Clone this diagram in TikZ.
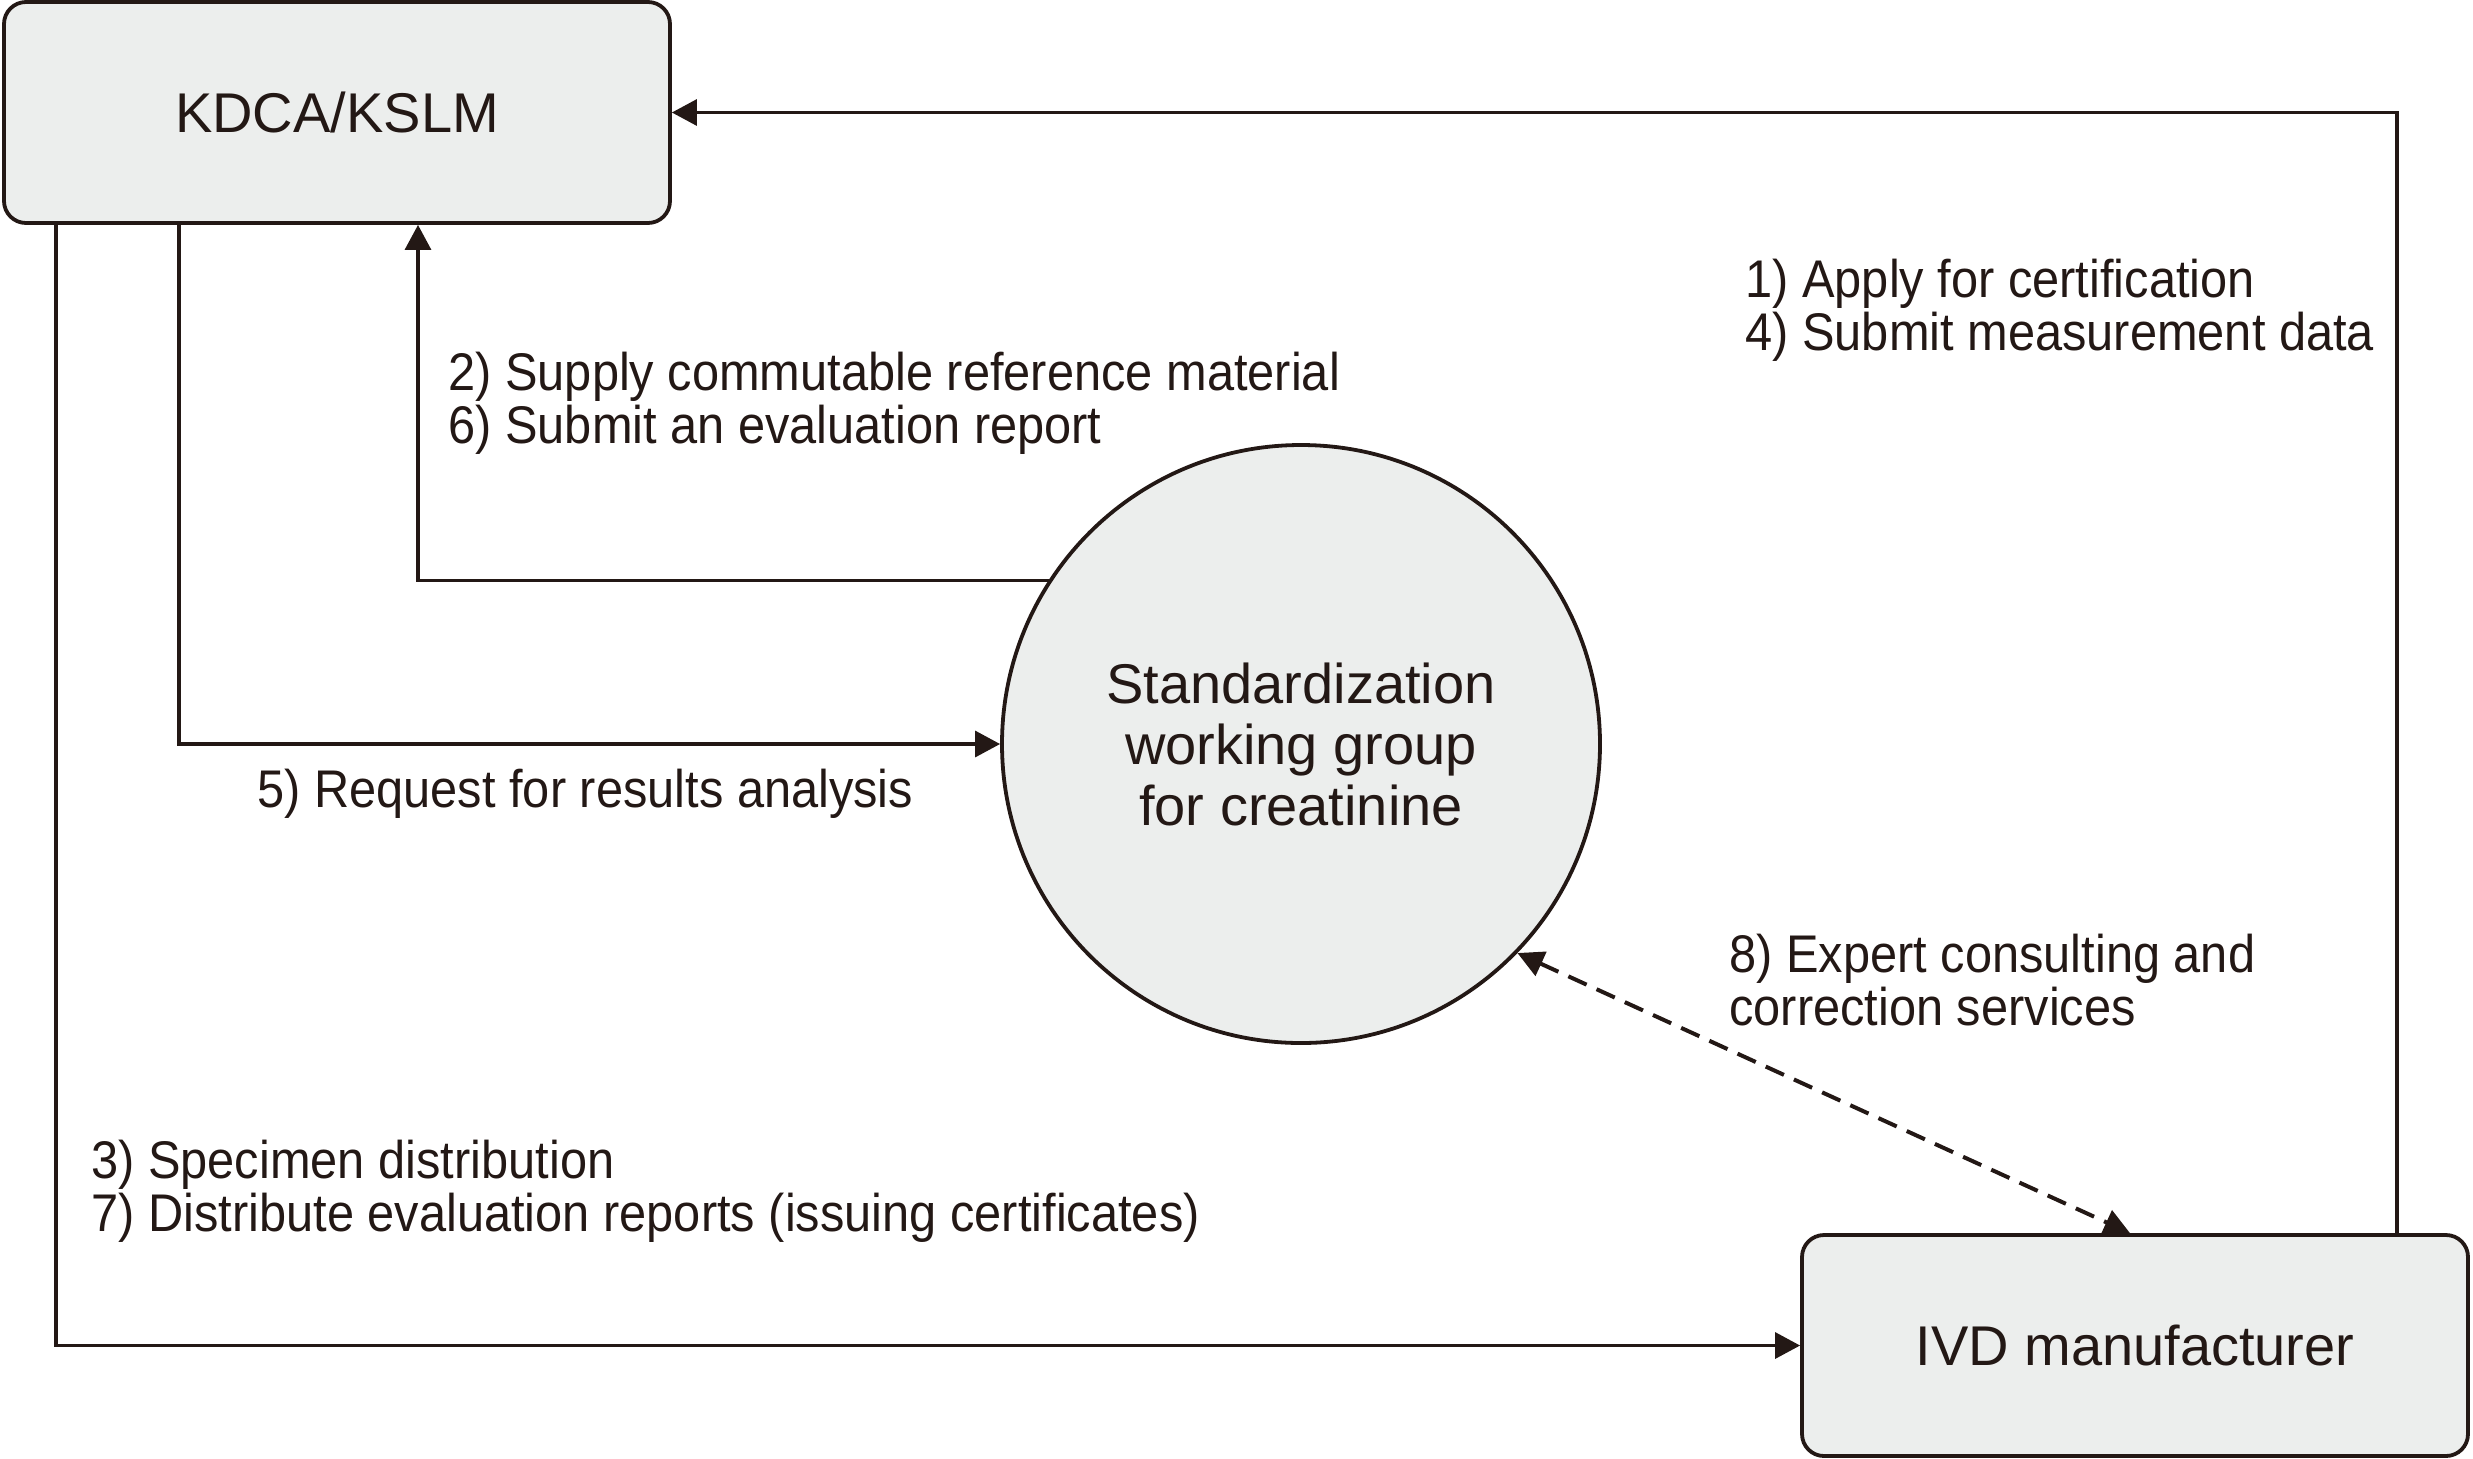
\documentclass[tikz,border=0pt]{standalone}
\usepackage{fontspec}
\setmainfont{Liberation Sans}
\newfontfamily\lblfont[FakeStretch=0.92]{Liberation Sans}
\newfontfamily\boxfont{Liberation Sans}
\usetikzlibrary{arrows.meta}
\definecolor{ink}{RGB}{35,24,21}
\definecolor{boxfill}{RGB}{236,238,237}
\begin{document}
\begin{tikzpicture}[x=0.5pt,y=-0.5pt,
  entity/.style={draw=ink, fill=boxfill, line width=1.9pt, rounded corners=11pt,
    minimum width=333pt, minimum height=110.5pt, inner sep=0pt,
    font=\boxfont\fontsize{28pt}{30.5pt}\selectfont, text=ink},
  group/.style={draw=ink, fill=boxfill, line width=1.9pt, circle,
    minimum size=299pt, inner sep=0pt, align=center,
    font=\boxfont\fontsize{28pt}{30.5pt}\selectfont, text=ink},
  lbl/.style={anchor=north west, inner sep=0pt, align=left, text=ink,
    font=\lblfont\fontsize{26.5pt}{26.5pt}\selectfont},
  arr/.style={draw=ink, line width=1.6pt, -{Triangle[length=12.5pt,width=13pt]}},
  darr/.style={draw=ink, line width=2pt, dash pattern=on 10pt off 5.5pt,
    {Triangle[length=13pt,width=13pt]}-{Triangle[length=13pt,width=13pt]}}
]
\useasboundingbox (0,0) rectangle (2473,1458);

\node[entity] (kdca) at (337,112.5) {KDCA/KSLM};
\node[entity] (ivd) at (2135,1345.5) {IVD manufacturer};
\node[group] (circ) at (1301,744) {Standardization\\working group\\for creatinine};

\coordinate (x56) at (56,0);
\coordinate (x179) at (179,0);
\coordinate (x418) at (418,0);
\coordinate (x2130) at (2130,0);
\coordinate (x2397) at (2397,0);

% 1) / 4)
\draw[arr] (ivd.north -| x2397) |- (kdca.east);
% 2) / 6)
\draw[arr] (circ.147.4) -| (kdca.south -| x418);
% 5)
\draw[arr] (kdca.south -| x179) |- (circ.west);
% 3) / 7)
\draw[arr] (kdca.south -| x56) |- (ivd.west);
% 8)
\draw[darr] (circ.-44.2) -- (ivd.north -| x2130);

\node[lbl] (l1) at (1745,259) {1) Apply for certification\\4) Submit measurement data};
\node[lbl] (l2) at (448,352) {2) Supply commutable reference material\\6) Submit an evaluation report};
\node[lbl] (l5) at (257,769) {5) Request for results analysis};
\node[lbl] (l3) at (91,1140) {3) Specimen distribution\\7) Distribute evaluation reports (issuing certificates)};
\node[lbl] (l8) at (1729,934) {8) Expert consulting and\\correction services};
\end{tikzpicture}
\end{document}
